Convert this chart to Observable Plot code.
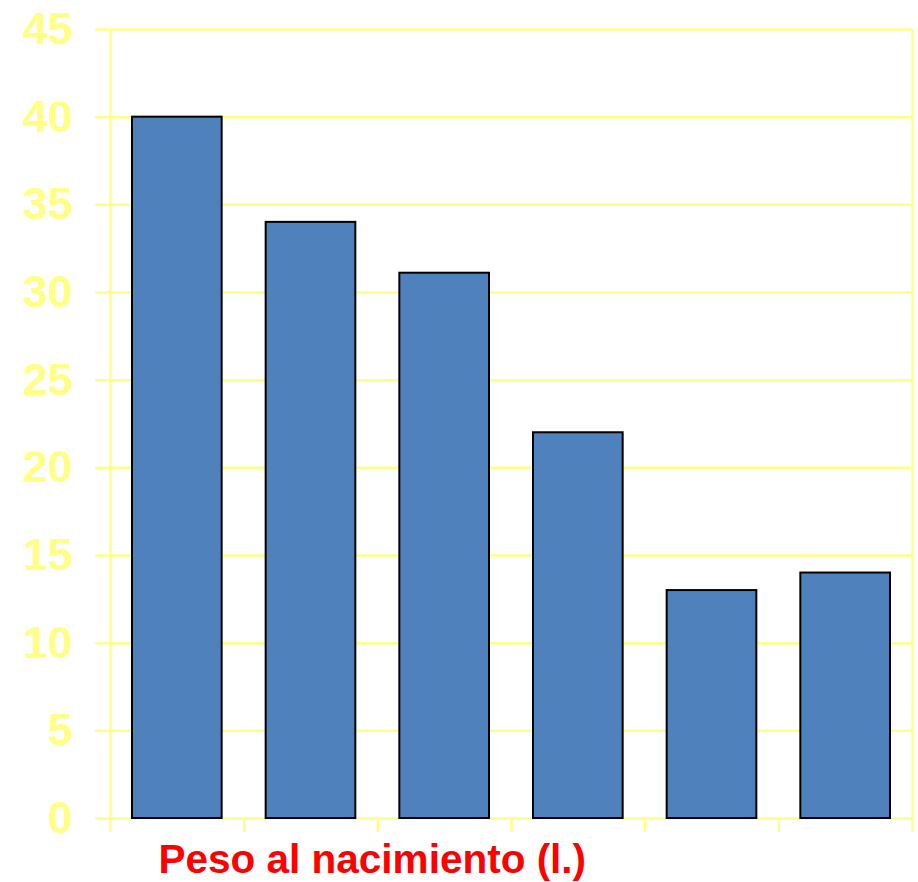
<!DOCTYPE html>
<html>
<head>
<meta charset="utf-8">
<script src="https://cdn.jsdelivr.net/npm/d3@7"></script>
<script src="https://cdn.jsdelivr.net/npm/@observablehq/plot@0.6"></script>
<style>
  html, body { margin: 0; padding: 0; background: #fff; }
  #chart svg { display: block; }
</style>
</head>
<body>
<div id="chart"></div>
<script>
const categories = ["1", "2", "3", "4", "5", "6"];
const values = [40, 34, 31.1, 22, 13, 14];
const yTicks = [0, 5, 10, 15, 20, 25, 30, 35, 40, 45];
const xLabel = "Peso al nacimiento (l.)";

const data = categories.map((c, i) => ({ cat: c, i, value: values[i] }));
const boundaries = d3.range(categories.length + 1);

const yellow = "#ffff85";

const chart = Plot.plot({
  width: 918,
  height: 882,
  marginLeft: 110,
  marginRight: 6,
  marginTop: 29,
  marginBottom: 64,
  style: { fontFamily: "Liberation Sans, Arial, sans-serif", background: "#fff" },
  x: { type: "linear", domain: [0, categories.length] },
  y: { domain: [0, 45] },
  marks: [
    Plot.gridY(yTicks, { stroke: yellow, strokeOpacity: 1, strokeWidth: 2.5 }),
    Plot.ruleX([0, categories.length], { stroke: yellow, strokeWidth: 2.5, y1: 45, y2: 0 }),
    Plot.axisX(boundaries, {
      tickFormat: () => "",
      tickSize: 14,
      stroke: yellow,
      strokeWidth: 2.5,
      label: null
    }),
    Plot.axisY(yTicks, {
      tickSize: 15,
      tickPadding: 23,
      stroke: yellow,
      strokeWidth: 2.5,
      fill: yellow,
      fontSize: 45,
      fontWeight: "bold",
      label: null
    }),
    Plot.rectY(data, {
      x1: "i",
      x2: d => d.i + 1,
      y: "value",
      insetLeft: 22,
      insetRight: 22,
      fill: "#4f81bd",
      stroke: "#000",
      strokeWidth: 2
    }),
    Plot.text([xLabel], {
      text: d => d,
      frameAnchor: "bottom-left",
      textAnchor: "start",
      lineAnchor: "middle",
      dx: 48,
      dy: 42,
      fill: "#ff0000",
      fontSize: 40.5,
      fontWeight: "bold"
    })
  ]
});

document.getElementById("chart").appendChild(chart);
</script>
</body>
</html>
